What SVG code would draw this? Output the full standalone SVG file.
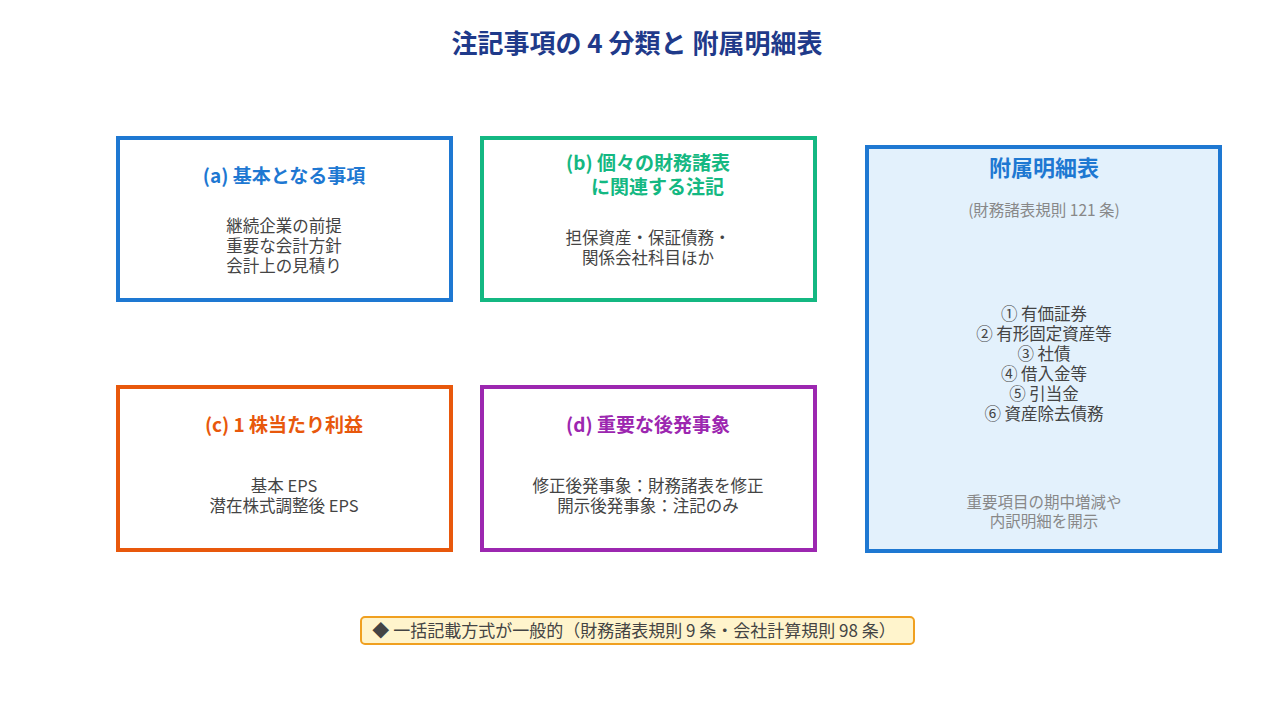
<svg xmlns="http://www.w3.org/2000/svg" width="1275" height="728" viewBox="0 0 1275 728">
<style>
text{font-family:"Noto Sans CJK JP","Noto Sans",sans-serif;text-anchor:middle}
.t{font-size:19px;font-weight:bold}
.b{font-size:16.5px;fill:#444}
.g{font-size:15.5px;fill:#888}
.box{fill:#fff;stroke-width:4}
</style>
<rect width="1275" height="728" fill="#fff"/>
<text x="637" y="53" style="font-size:26px;font-weight:bold;fill:#1f3a8a">注記事項の 4 分類と 附属明細表</text>
<g id="a"><rect class="box" x="118" y="138" width="333" height="162" stroke="#1e78d2"/>
<text class="t" x="284" y="183" fill="#1e78d2">(a) 基本となる事項</text>
<text class="b" x="284" y="232">継続企業の前提</text><text class="b" x="284" y="252">重要な会計方針</text><text class="b" x="284" y="272">会計上の見積り</text></g>
<g id="b"><rect class="box" x="482" y="138" width="333" height="162" stroke="#14b882"/>
<text class="t" x="648" y="170" fill="#14b882">(b) 個々の財務諸表</text><text class="t" x="648" y="194" fill="#14b882">　に関連する注記</text>
<text class="b" x="648" y="244">担保資産・保証債務・</text><text class="b" x="648" y="264">関係会社科目ほか</text></g>
<g id="c"><rect class="box" x="118" y="387" width="333" height="163" stroke="#e8580c"/>
<text class="t" x="284" y="432" fill="#e8580c">(c) 1 株当たり利益</text>
<text class="b" x="284" y="492">基本 EPS</text><text class="b" x="284" y="512">潜在株式調整後 EPS</text></g>
<g id="d"><rect class="box" x="482" y="387" width="333" height="163" stroke="#9c27b0"/>
<text class="t" x="648" y="432" fill="#9c27b0">(d) 重要な後発事象</text>
<text class="b" x="648" y="492">修正後発事象：財務諸表を修正</text><text class="b" x="648" y="512">開示後発事象：注記のみ</text></g>
<g id="e"><rect x="867" y="147" width="353" height="404" fill="#e3f1fc" stroke="#1e78d2" stroke-width="4"/>
<text x="1044" y="176" style="font-size:22px;font-weight:bold;fill:#1e78d2">附属明細表</text>
<text class="g" x="1044" y="216">(財務諸表規則 121 条)</text>
<text class="b" x="1044" y="320">① 有価証券</text><text class="b" x="1044" y="340">② 有形固定資産等</text><text class="b" x="1044" y="360">③ 社債</text><text class="b" x="1044" y="380">④ 借入金等</text><text class="b" x="1044" y="400">⑤ 引当金</text><text class="b" x="1044" y="420">⑥ 資産除去債務</text>
<text class="g" x="1044" y="508">重要項目の期中増減や</text><text class="g" x="1044" y="527">内訳明細を開示</text></g>
<g id="note"><rect x="361" y="617" width="553" height="27" rx="4" fill="#fff4cc" stroke="#f0a020" stroke-width="2"/>
<text x="634" y="637" style="font-size:17px;fill:#444">◆ 一括記載方式が一般的（財務諸表規則 9 条・会社計算規則 98 条）</text></g>
<g id="connectors"/>
</svg>
